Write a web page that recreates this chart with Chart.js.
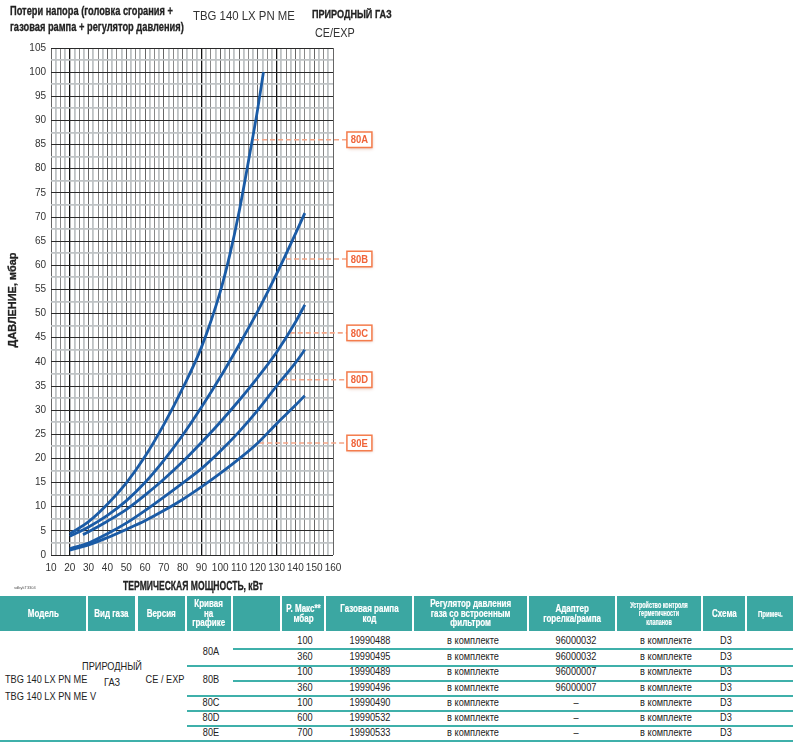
<!DOCTYPE html>
<html>
<head>
<meta charset="utf-8">
<script src="https://cdn.jsdelivr.net/npm/chart.js@4.4.1/dist/chart.umd.min.js"></script>
<style>
  body { margin: 0; width: 793px; height: 742px; position: relative; overflow: hidden; background: #fff;
         font-family: "Liberation Sans", Arial, sans-serif; color: #222; }
  #chart { position: absolute; left: 0; top: 0; }
  .t { position: absolute; white-space: nowrap; line-height: 1; }
  .b { font-weight: bold; -webkit-text-stroke: 0.3px #222; }
  .reg { color: #333; }
  .hd { position: absolute; top: 596px; height: 35px; background: #3ba7a2; color: #fff; font-weight: bold;
        font-size: 10px; line-height: 9.5px; display: flex; align-items: center; justify-content: center; text-align: center;
        -webkit-text-stroke: 0.2px #fff; }
  .hd span { display: inline-block; transform: scaleX(0.8); white-space: nowrap; }
  .rule { position: absolute; height: 1.5px; background: #3fb0aa; right: 0; }
</style>
</head>
<body>
<canvas id="chart" width="793" height="600"></canvas>

<div class="t b" data-w="163" style="left:10px;top:5px;font-size:12px;">Потери напора (головка сгорания +</div>
<div class="t b" data-w="174" style="left:10px;top:21px;font-size:12px;">газовая рампа + регулятор давления)</div>
<div class="t reg" data-w="102" style="left:193px;top:10px;font-size:12.5px;">TBG 140 LX PN ME</div>
<div class="t b" data-w="80" style="left:312px;top:9px;font-size:11px;">ПРИРОДНЫЙ ГАЗ</div>
<div class="t reg" data-w="40" style="left:315px;top:27px;font-size:12.5px;">CE/EXP</div>
<div class="t b" data-w="140" data-t="translate(-50%,-50%)" style="left:193px;top:586px;font-size:12px;">ТЕРМИЧЕСКАЯ МОЩНОСТЬ, кВт</div>
<div class="t b" data-w="95" data-t="translate(-50%,-50%) rotate(-90deg)" style="left:13px;top:300px;font-size:11.5px;">ДАВЛЕНИЕ, мбар</div>
<div class="t" style="left:14px;top:586px;font-size:4px;color:#555;">sdbykT3304</div>

<div id="table"></div>

<script>
// Curves (thermal power kW -> pressure mbar)
const powerA = [20, 30, 40, 50, 60, 70, 80, 90, 100, 105, 110, 115, 120, 123];
const curveA = [4.4, 6.9, 10.5, 14.9, 20.4, 27, 34.5, 43, 54.5, 62, 71, 81.5, 92.5, 100];
const powerB = [20, 30, 40, 50, 60, 70, 80, 90, 100, 110, 120, 130, 140, 145];
const curveB = [3.9, 5.8, 8.2, 11.2, 15, 19.6, 24.8, 30.6, 36.8, 43.5, 50.5, 58.2, 66.5, 70.8];
const powerC = [27, 30, 40, 50, 60, 70, 80, 90, 100, 110, 120, 130, 140, 145];
const curveC = [4.2, 4.8, 7.0, 9.4, 12.4, 15.7, 19.3, 23.3, 27.5, 32, 36.8, 42, 48.2, 51.8];
const powerDE = [20, 30, 40, 50, 60, 70, 80, 90, 100, 110, 120, 130, 140, 145];
const curveD = [1.3, 2.5, 4.4, 6.6, 9.2, 12.0, 14.9, 17.9, 21.5, 25.5, 30, 35, 39.8, 42.5];
const curveE = [1.0, 2.1, 3.6, 5.3, 7.1, 9.2, 11.5, 14.1, 16.9, 19.9, 23.2, 27.2, 31, 33];

// Curve labels and their leader lines
const labelNames = ['80A', '80B', '80C', '80D', '80E'];
const labelLevels = [86, 61.3, 46, 36.3, 23.2];
const leaderStart = [118, 135, 137, 133.5, 120.7];
const leaderEnd = 167.4;

// Table
const headers = ['Модель', 'Вид газа', 'Версия', 'Кривая<br>на<br>графике', '', 'Р. Макс**<br>мбар', 'Газовая рампа<br>код',
  'Регулятор давления<br>газа со встроенным<br>фильтром', 'Адаптер<br>горелка/рампа',
  '<span style="font-size:8.5px;line-height:8.5px">Устройство контроля<br>герметичности<br>клапанов</span>', 'Схема',
  '<span style="font-size:9.5px">Примеч.</span>'];
const models = ['TBG 140 LX PN ME', 'TBG 140 LX PN ME V'];
const curveGroups = ['80A', '80B', '80C', '80D', '80E'];
const pMax = [100, 360, 100, 360, 100, 600, 700];
const rampCodes = ['19990488', '19990495', '19990489', '19990496', '19990490', '19990532', '19990533'];
const regulator = Array(7).fill('в комплекте');
const adapters = ['96000032', '96000032', '96000007', '96000007', '–', '–', '–'];
const valveCheck = Array(7).fill('в комплекте');
const scheme = Array(7).fill('D3');

// Layout of the table
const colLeft = [0, 88, 138, 187, 233, 282, 326, 414, 529, 617, 703, 747];
const colWidth = [86, 47, 47, 44, 47, 42, 86, 113, 86, 84, 42, 46];
const rowCenter = [641, 657, 672, 688, 703, 718, 733];
const ruleY = [648, 665, 680, 695, 710, 725, 740];
const ruleX = [233, 187, 233, 187, 187, 187, 0];
const groupCenter = [652, 680, 703, 718, 733];
const NARROW = 0.8;

const tbl = document.getElementById('table');
const put = (html, x, y, size = 11.5, left = false) => {
  const tf = left ? `translate(0,-50%) scaleX(${NARROW})` : `translate(-50%,-50%) scaleX(${NARROW})`;
  tbl.insertAdjacentHTML('beforeend',
    `<div class="t" style="left:${x}px;top:${y}px;font-size:${size}px;transform-origin:${left ? '0 50%' : '50% 50%'};transform:${tf}">${html}</div>`);
};
headers.forEach((h, i) => {
  tbl.insertAdjacentHTML('beforeend',
    `<div class="hd" style="left:${colLeft[i]}px;width:${colWidth[i]}px"><span>${h}</span></div>`);
});
ruleY.forEach((y, i) => {
  tbl.insertAdjacentHTML('beforeend', `<div class="rule" style="left:${ruleX[i]}px;top:${y}px"></div>`);
});
put(models[0], 5, 680, 11.5, true);
put(models[1], 5, 697, 11.5, true);
put('ПРИРОДНЫЙ', 112, 667);
put('ГАЗ', 112, 683);
put('CE / EXP', 165, 680);
curveGroups.forEach((g, i) => put(g, 211, groupCenter[i]));
rowCenter.forEach((y, i) => {
  put(pMax[i], 305, y);
  put(rampCodes[i], 370, y);
  put(regulator[i], 473, y);
  put(adapters[i], 576, y);
  put(valveCheck[i], 666, y);
  put(scheme[i], 726, y);
});

// squeeze the condensed captions to the widths they have in the picture
document.querySelectorAll('[data-w]').forEach(el => {
  const k = +el.dataset.w / el.offsetWidth;
  const pre = el.dataset.t || '';
  el.style.transformOrigin = pre ? '50% 50%' : '0 50%';
  el.style.transform = `${pre} scaleX(${k})`;
});

// Chart
const BLUE = '#1a5ba6';
const pts = (xs, ys) => xs.map((x, i) => ({ x, y: ys[i] }));
const curveDs = (xs, ys) => ({
  data: pts(xs, ys), borderColor: BLUE, borderWidth: 2.8, pointRadius: 0,
  cubicInterpolationMode: 'monotone', fill: false
});

const datasets = [
  curveDs(powerA, curveA), curveDs(powerB, curveB), curveDs(powerC, curveC),
  curveDs(powerDE, curveD), curveDs(powerDE, curveE)
];
labelNames.forEach((name, i) => {
  datasets.push({
    data: [{ x: leaderStart[i], y: labelLevels[i] }, { x: leaderEnd, y: labelLevels[i] }],
    borderColor: '#f5a587', borderWidth: 1.6, borderDash: [5, 3], pointRadius: 0,
    clip: false, boxLabel: name
  });
});

const labelBoxes = {
  id: 'labelBoxes',
  afterDatasetsDraw(chart) {
    const ctx = chart.ctx;
    chart.data.datasets.forEach((ds, i) => {
      if (!ds.boxLabel) return;
      const els = chart.getDatasetMeta(i).data;
      const p = els[els.length - 1];
      const w = 25, h = 15.5;
      ctx.save();
      ctx.shadowColor = 'rgba(200,120,90,0.45)';
      ctx.shadowBlur = 3;
      ctx.shadowOffsetX = 1.5;
      ctx.shadowOffsetY = 1.5;
      ctx.fillStyle = '#fff';
      ctx.fillRect(p.x, p.y - h / 2, w, h);
      ctx.shadowColor = 'transparent';
      ctx.strokeStyle = '#f47c4c';
      ctx.lineWidth = 1.5;
      ctx.strokeRect(p.x, p.y - h / 2, w, h);
      ctx.fillStyle = '#f0643a';
      ctx.font = 'bold 11.5px "Liberation Sans", Arial, sans-serif';
      ctx.textAlign = 'center';
      ctx.textBaseline = 'middle';
      ctx.translate(p.x + w / 2, p.y + 0.5);
      ctx.scale(0.82, 1);
      ctx.fillText(ds.boxLabel, 0, 0);
      ctx.restore();
    });
  }
};

const gridX = v => [20, 90, 130].includes(v) ? '#111' : v % 10 === 0 ? '#666' : v % 5 === 0 ? '#888' : '#bfc3c5';
const gridXw = v => [20, 90, 130].includes(v) ? 1.3 : v % 5 === 0 ? 1 : 1.8;
const gridY = v => v % 5 === 0 ? '#2a2a2a' : '#bfc3c5';
const gridYw = v => v % 5 === 0 ? 1 : 1.8;
const tickFont = { family: '"Liberation Sans", Arial, sans-serif', size: 10 };

new Chart(document.getElementById('chart'), {
  type: 'line',
  data: { datasets },
  options: {
    responsive: false,
    animation: false,
    layout: { padding: { left: 0, top: 48, right: 460, bottom: 0 } },
    plugins: { legend: { display: false }, tooltip: { enabled: false } },
    scales: {
      x: {
        type: 'linear', min: 10, max: 160,
        ticks: { stepSize: 2.5, autoSkip: false, maxRotation: 0, padding: 7, font: tickFont, color: '#333',
                 callback: v => v % 10 === 0 ? v : '' },
        grid: { drawTicks: false, color: c => gridX(c.tick.value), lineWidth: c => gridXw(c.tick.value) },
        border: { display: false },
        afterFit: s => { s.height = 45; }
      },
      y: {
        type: 'linear', min: 0, max: 105,
        ticks: { stepSize: 2.5, autoSkip: false, padding: 5, font: tickFont, color: '#333',
                 callback: v => v % 5 === 0 ? v : '' },
        grid: { drawTicks: false, color: c => gridY(c.tick.value), lineWidth: c => gridYw(c.tick.value) },
        border: { display: false },
        afterFit: s => { s.width = 51; }
      }
    }
  },
  plugins: [labelBoxes]
});
</script>
</body>
</html>
